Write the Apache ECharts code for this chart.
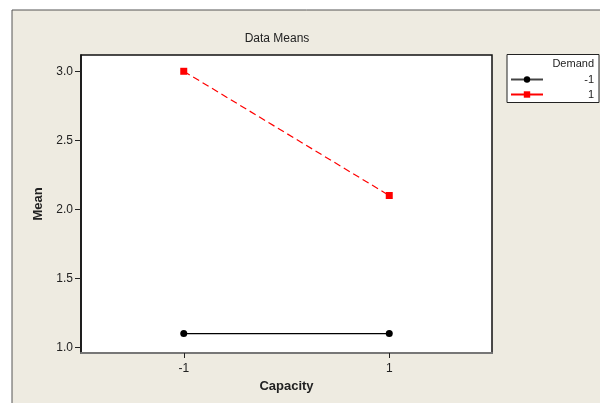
<!DOCTYPE html>
<html><head><meta charset="utf-8">
<script src="https://cdn.jsdelivr.net/npm/echarts@6/dist/echarts.min.js"></script>
<style>html,body{margin:0;padding:0;background:#fff}#c{width:600px;height:403px}</style>
</head><body><div id="c"></div>
<script>
var capacity = [-1, 1];
var demandLevels = ['-1', '1'];
var meanDemandNeg = [1.1, 1.1];
var meanDemandPos = [3.0, 2.1];
var yTicks = [1.0, 1.5, 2.0, 2.5, 3.0];
var xTicks = [-1, 1];

var font = 'Liberation Sans';
function pairs(xs, ys){ return xs.map(function(x,i){return [x, ys[i]];}); }

var chart = echarts.init(document.getElementById('c'), null, {renderer:'canvas'});
chart.setOption({
  backgroundColor: '#ffffff',
  animation: false,
  graphic: [
    {type:'rect', z:-10, shape:{x:12, y:10, width:600, height:400}, style:{fill:'#EEEBE1', stroke:'#555', lineWidth:1}},
    {type:'rect', z:-5, shape:{x:507, y:54.5, width:92, height:48}, style:{fill:'#fff', stroke:'#222', lineWidth:1}},
    {type:'text', z:10, style:{x:594, y:64, text:'Demand', align:'right', verticalAlign:'middle', font:'11px "Liberation Sans"', fill:'#222'}}
  ],
  title: {text:'Data Means', left:272, top:28, textAlign:'center',
    textStyle:{fontFamily:font, fontSize:12, fontWeight:'normal', color:'#222'}},
  grid: {left:81, right:108, top:55, bottom:50, show:true, backgroundColor:'#fff', borderColor:'#111', borderWidth:1.5},
  legend: {
    orient:'vertical', left:505, top:69, itemWidth:32, itemHeight:8, itemGap:4,
    data: [{name:demandLevels[0], lineStyle:{color:'#444'}}, {name:demandLevels[1], lineStyle:{type:'solid'}}],
    formatter: function(n){ return '{a|' + n + '}'; },
    textStyle:{fontFamily:font, fontSize:11, color:'#222',
      rich:{a:{width:46, height:12, align:'right', fontFamily:font, fontSize:11, color:'#222'}}}
  },
  xAxis: {
    type:'value', min:-2, max:2,
    name:'Capacity', nameLocation:'middle', nameGap:25,
    nameTextStyle:{fontFamily:font, fontSize:13, fontWeight:'bold', color:'#222'},
    axisLine:{show:true, onZero:false, lineStyle:{color:'#777', width:2}},
    axisTick:{show:true, length:5, customValues:xTicks, lineStyle:{color:'#222'}},
    axisLabel:{customValues:xTicks, margin:10, fontFamily:font, fontSize:12, color:'#222'},
    splitLine:{show:false}
  },
  yAxis: {
    type:'value', min:0.959, max:3.118,
    name:'Mean', nameLocation:'middle', nameGap:35,
    nameTextStyle:{fontFamily:font, fontSize:13, fontWeight:'bold', color:'#222'},
    axisLine:{show:true, onZero:false, lineStyle:{color:'#111', width:1.5}},
    axisTick:{show:true, length:6, customValues:yTicks, lineStyle:{color:'#222'}},
    axisLabel:{customValues:yTicks, margin:8, fontFamily:font, fontSize:12, color:'#222',
      formatter:function(v){return v.toFixed(1);}},
    splitLine:{show:false}
  },
  series: [
    {name:demandLevels[0], type:'line', data:pairs(capacity, meanDemandNeg),
      symbol:'circle', symbolSize:7, itemStyle:{color:'#000'},
      lineStyle:{color:'#000', width:1.2}},
    {name:demandLevels[1], type:'line', data:pairs(capacity, meanDemandPos),
      symbol:'rect', symbolSize:7, itemStyle:{color:'#f00'},
      lineStyle:{color:'#f00', width:1.2, type:[7,4]}}
  ]
});
</script></body></html>
